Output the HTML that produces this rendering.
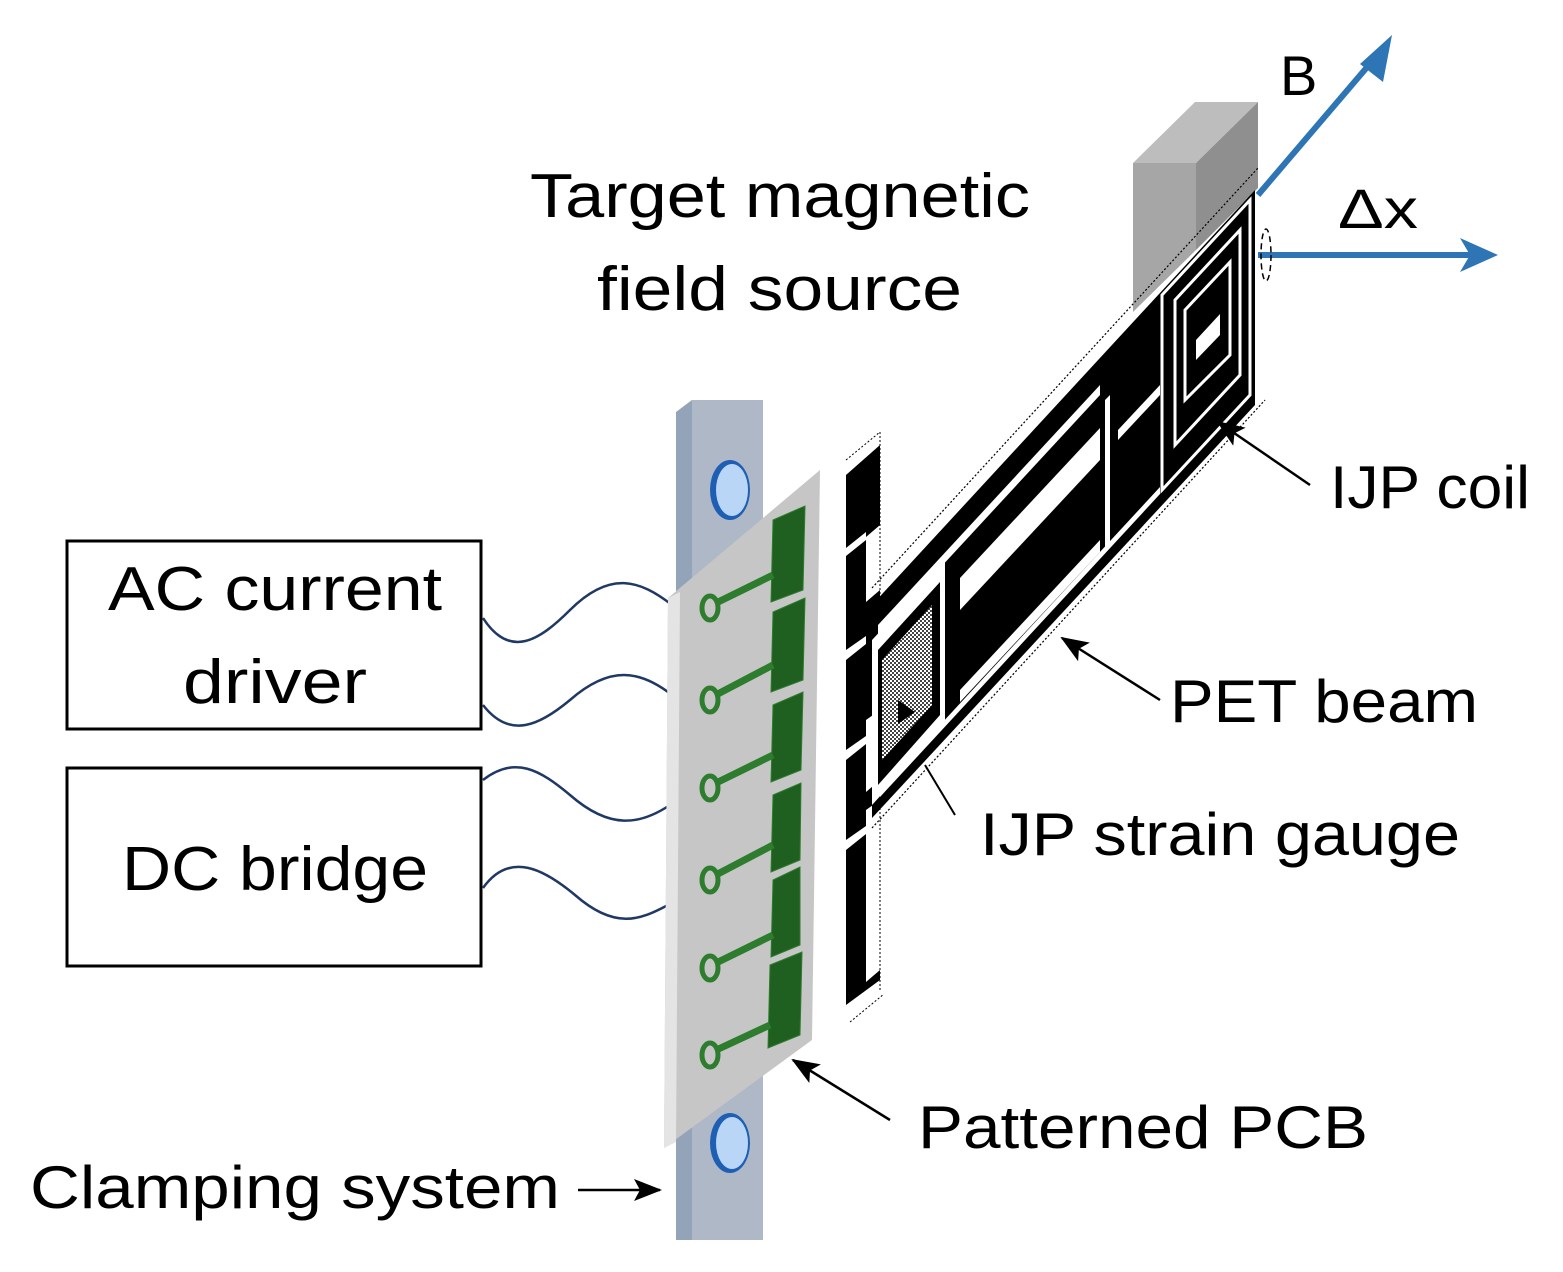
<!DOCTYPE html>
<html><head><meta charset="utf-8"><style>
html,body{margin:0;padding:0;background:#fff;}
svg{display:block;}
text{font-family:"Liberation Sans","DejaVu Sans",sans-serif;fill:#000;}
</style></head><body>
<svg width="1563" height="1272" viewBox="0 0 1563 1272" xmlns="http://www.w3.org/2000/svg">
<defs>
<marker id="ah" markerWidth="28" markerHeight="22" refX="26" refY="11" orient="auto" markerUnits="userSpaceOnUse" viewBox="0 0 28 22">
<path d="M0,0 L28,11 L0,22 L6,11 z" fill="#000"/></marker>
<pattern id="chk" width="4" height="4" patternUnits="userSpaceOnUse"><rect width="4" height="4" fill="#fff"/><rect width="2" height="2" fill="#444"/><rect x="2" y="2" width="2" height="2" fill="#444"/></pattern>
</defs>

<!-- Texts -->
<text x="530" y="217" font-size="62" textLength="500" lengthAdjust="spacingAndGlyphs">Target magnetic</text>
<text x="597" y="310" font-size="62" textLength="365" lengthAdjust="spacingAndGlyphs">field source</text>
<text x="1280" y="95" font-size="56">B</text>
<text x="1338" y="228" font-size="56" textLength="80" lengthAdjust="spacingAndGlyphs">Δx</text>
<text x="1330" y="508" font-size="60" textLength="200" lengthAdjust="spacingAndGlyphs">IJP coil</text>
<text x="1170" y="722" font-size="60" textLength="308" lengthAdjust="spacingAndGlyphs">PET beam</text>
<text x="980" y="855" font-size="60" textLength="480" lengthAdjust="spacingAndGlyphs">IJP strain gauge</text>
<text x="918" y="1148" font-size="60" textLength="450" lengthAdjust="spacingAndGlyphs">Patterned PCB</text>
<text x="30" y="1208" font-size="60" textLength="530" lengthAdjust="spacingAndGlyphs">Clamping system</text>

<!-- boxes -->
<rect x="67" y="541" width="414" height="188" fill="#fff" stroke="#000" stroke-width="3"/>
<text x="108" y="610" font-size="62" textLength="334" lengthAdjust="spacingAndGlyphs">AC current</text>
<text x="183" y="703" font-size="62" textLength="184" lengthAdjust="spacingAndGlyphs">driver</text>
<rect x="67" y="768" width="414" height="198" fill="#fff" stroke="#000" stroke-width="3"/>
<text x="122" y="890" font-size="62" textLength="306" lengthAdjust="spacingAndGlyphs">DC bridge</text>

<!-- wires -->
<g fill="none" stroke="#1f3864" stroke-width="2.5">
<path d="M483,618 C510,660 540,640 570,610 C610,570 640,580 672,605"/>
<path d="M483,705 C510,740 540,725 570,700 C610,665 640,670 672,695"/>
<path d="M483,780 C515,755 540,770 570,795 C610,830 640,825 670,805"/>
<path d="M483,888 C510,850 545,870 575,895 C615,930 640,920 668,905"/>
</g>

<!-- clamp bar -->
<polygon points="676,412 692,400 692,1240 676,1240" fill="#93a3b8"/>
<polygon points="692,400 763,400 763,1240 692,1240" fill="#aeb8c6"/>
<ellipse cx="730" cy="490" rx="20" ry="30" fill="#1e5fb4"/>
<ellipse cx="732" cy="490" rx="16" ry="26" fill="#b9d6f7"/>
<ellipse cx="730" cy="1143" rx="20" ry="30" fill="#1e5fb4"/>
<ellipse cx="732" cy="1143" rx="16" ry="26" fill="#b9d6f7"/>

<!-- PCB plate -->
<polygon points="668,598 820,470 812,1040 664,1148" fill="#c6c6c6"/>
<polygon points="668,598 680,592 676,1142 664,1148" fill="#e4e4e4"/>
<g fill="#1f5f1f" stroke="#2e7d2e">
<polygon points="773,520 805,506 803,590 771,602"/>
<polygon points="773,612 805,598 803,680 771,692"/>
<polygon points="773,705 803,692 801,770 771,782"/>
<polygon points="773,795 801,783 800,860 771,872"/>
<polygon points="773,880 800,867 800,945 771,957"/>
<polygon points="770,965 802,952 800,1035 768,1048"/>
</g>
<g fill="none" stroke="#2e7d2e" stroke-width="7">
<path d="M712,605 L773,575"/><path d="M712,697 L773,665"/><path d="M712,785 L773,755"/>
<path d="M712,877 L773,845"/><path d="M712,965 L773,935"/><path d="M712,1052 L770,1025"/>
</g>
<g fill="#c6c6c6" stroke="#2e7d2e" stroke-width="5">
<ellipse cx="710" cy="608" rx="8" ry="12"/><ellipse cx="710" cy="700" rx="8" ry="12"/>
<ellipse cx="710" cy="788" rx="8" ry="12"/><ellipse cx="710" cy="880" rx="8" ry="12"/>
<ellipse cx="710" cy="968" rx="8" ry="12"/><ellipse cx="710" cy="1055" rx="8" ry="12"/>
</g>

<!-- vertical slab -->
<polygon points="846,475 880,445 880,980 846,1005" fill="#000"/>
<g fill="#fff">
<polygon points="866,537 880,525 880,590 866,602"/>
<polygon points="846,548 866,532 866,540 846,556"/>
<polygon points="846,650 866,636 866,644 846,660"/>
<polygon points="846,750 866,736 866,744 846,760"/>
<polygon points="846,840 866,826 866,834 846,850"/>
<polygon points="866,720 880,710 880,780 866,792"/>
<polygon points="866,810 880,800 880,970 866,982"/>
</g>
<path d="M846,460 L880,432 M880,432 L880,990 M850,1022 L884,994" stroke="#000" stroke-width="1" stroke-dasharray="2,2" fill="none"/>

<!-- magnet -->
<polygon points="1133,163 1195,102 1258,102 1196,163" fill="#bdbdbd"/>
<polygon points="1133,163 1196,163 1196,250 1133,312" fill="#a6a6a6"/>
<polygon points="1196,163 1258,102 1258,188 1196,250" fill="#8f8f8f"/>

<!-- beam -->
<polygon points="872,605 1255,190 1255,405 872,818" fill="#000"/>
<g fill="#fff">
<polygon points="878,625 1100,385 1100,395 878,635"/>
<polygon points="960,578 1100,428 1100,460 960,610"/>
<polygon points="960,690 1100,540 1100,552 960,702"/>
<polygon points="880,790 1160,487 1160,494 880,797"/>
<polygon points="1105,400 1110,395 1110,545 1105,550"/>
<polygon points="1118,430 1160,385 1160,395 1118,440"/>
</g>
<polygon points="872,640 945,562 945,725 872,805" fill="#fff"/>
<polygon points="878,650 940,582 940,715 878,785" fill="#000"/>
<polygon points="882,660 932,605 932,705 882,760" fill="url(#chk)"/>
<polygon points="898,700 915,712 898,724" fill="#000"/>
<polygon points="1162,295 1250,200 1250,395 1162,490" fill="none" stroke="#fff" stroke-width="3"/>
<polygon points="1175,300 1240,230 1240,375 1175,445" fill="none" stroke="#fff" stroke-width="3"/>
<polygon points="1185,310 1230,262 1230,355 1185,400" fill="none" stroke="#fff" stroke-width="3"/>
<polygon points="1196,340 1220,314 1220,335 1196,360" fill="#fff"/>
<path d="M872,588 L1258,168 M872,828 L1265,400" stroke="#000" stroke-width="1.2" stroke-dasharray="2,2" fill="none"/>

<!-- blue arrows -->
<g stroke="#2e75b6" stroke-width="6" fill="none">
<path d="M1258,195 L1380,52"/>
<path d="M1258,255 L1480,255"/>
</g>
<polygon points="1392,35 1383,82 1360,64" fill="#2e75b6"/>
<polygon points="1498,255 1460,238 1470,255 1460,272" fill="#2e75b6"/>
<ellipse cx="1266" cy="255" rx="5" ry="26" fill="none" stroke="#000" stroke-width="1.5" stroke-dasharray="6,4"/>

<!-- callout arrows -->
<g stroke="#000" stroke-width="2.5" fill="none" marker-end="url(#ah)">
<path d="M1310,485 L1218,422"/>
<path d="M1160,700 L1062,638"/>
<path d="M890,1120 L793,1060"/>
<path d="M578,1190 L660,1190"/>
</g>
<path d="M955,815 L925,765" stroke="#000" stroke-width="2"/>
</svg>
</body></html>
